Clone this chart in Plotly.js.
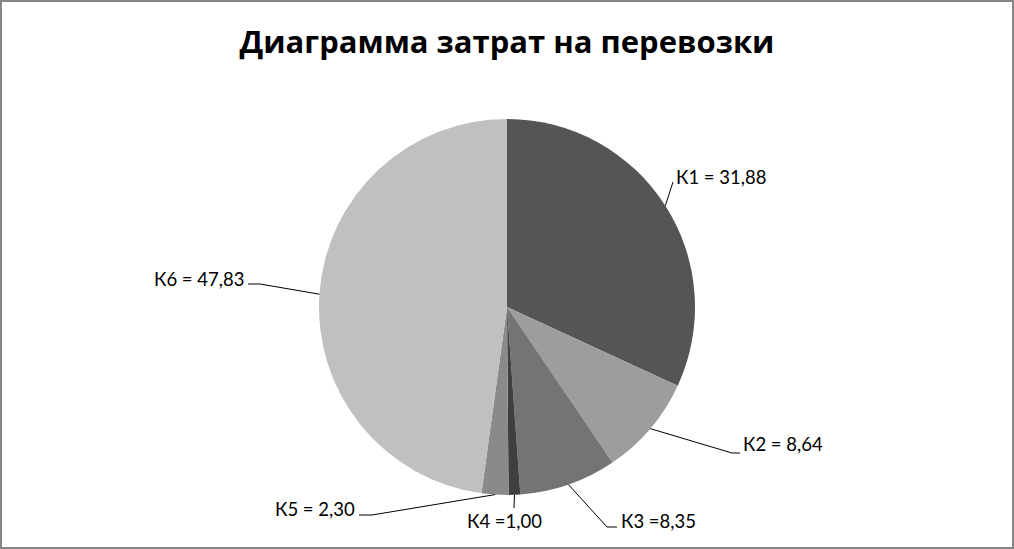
<!DOCTYPE html>
<html>
<head>
<meta charset="utf-8">
<script src="https://cdn.plot.ly/plotly-3.0.1.min.js"></script>
<style>
  html, body { margin: 0; padding: 0; background: #ffffff; }
  #chart { width: 1014px; height: 549px; }
</style>
</head>
<body>
<div id="chart"></div>
<script>
// ---- data ----
const categories = ['К1', 'К2', 'К3', 'К4', 'К5', 'К6'];
const costs = [31.88, 8.64, 8.35, 1.00, 2.30, 47.83];
const labelTexts = ['К1 = 31,88', 'К2 = 8,64', 'К3 =8,35', 'К4 =1,00', 'К5 = 2,30', 'К6 = 47,83'];
const titleText = 'Диаграмма затрат на перевозки';

// ---- styles / layout ----
const W = 1014, H = 549;
const sliceColors = ['#555555', '#9d9d9d', '#747474', '#3f3f3f', '#8a8a8a', '#c0c0c0'];
const cx = 507, cy = 307, R = 188;           // pie centre and radius (px)
// label placement: elbow of leader line, end of horizontal tail, text anchor
const labelPlacement = [
  { elbow: [673, 182], tail: null,        text: [674, 177], anchor: 'left' },
  { elbow: [732, 453], tail: [740, 453],  text: [741, 444], anchor: 'left' },
  { elbow: [607, 527], tail: [617, 527],  text: [619, 521], anchor: 'left' },
  { elbow: [514, 508], tail: null,        text: [504, 521], anchor: 'center' },
  { elbow: [372, 515], tail: [359, 515],  text: [357, 509], anchor: 'right' },
  { elbow: [260, 284], tail: [248, 284],  text: [246, 279], anchor: 'right' }
];

const px = x => x / W;
const py = y => 1 - y / H;

const total = costs.reduce((a, b) => a + b, 0);
const shapes = [];
const annotations = [];
let cum = 0;
costs.forEach((v, i) => {
  const midFrac = (cum + v / 2) / total;
  cum += v;
  const ang = midFrac * 2 * Math.PI;          // clockwise from 12 o'clock
  const ex = cx + R * Math.sin(ang);
  const ey = cy - R * Math.cos(ang);
  const p = labelPlacement[i];
  shapes.push({ type: 'line', xref: 'paper', yref: 'paper',
    x0: px(ex), y0: py(ey), x1: px(p.elbow[0]), y1: py(p.elbow[1]),
    line: { color: '#000000', width: 1 } });
  if (p.tail) {
    shapes.push({ type: 'line', xref: 'paper', yref: 'paper',
      x0: px(p.elbow[0]), y0: py(p.elbow[1]), x1: px(p.tail[0]), y1: py(p.tail[1]),
      line: { color: '#000000', width: 1 } });
  }
  annotations.push({ xref: 'paper', yref: 'paper', x: px(p.text[0]), y: py(p.text[1]),
    xanchor: p.anchor, yanchor: 'middle', showarrow: false, text: labelTexts[i],
    font: { family: 'Lato, "Open Sans", sans-serif', size: 18.5, color: '#000000' } });
});

// outer chart border
shapes.push({ type: 'rect', xref: 'paper', yref: 'paper', x0: 0, y0: 0, x1: 1, y1: 1,
  line: { color: '#868686', width: 4 }, layer: 'above' });

const trace = {
  type: 'pie',
  labels: categories,
  values: costs,
  sort: false,
  direction: 'clockwise',
  rotation: 0,
  textinfo: 'none',
  hoverinfo: 'label+value',
  marker: { colors: sliceColors, line: { color: '#ffffff', width: 0 } },
  domain: { x: [px(cx - R), px(cx + R)], y: [py(cy + R), py(cy - R)] }
};

const layout = {
  width: W, height: H,
  margin: { l: 0, r: 0, t: 0, b: 0 },
  paper_bgcolor: '#ffffff',
  showlegend: false,
  title: {
    text: titleText,
    x: 0.5, xanchor: 'center',
    y: 1 - 42 / H, yanchor: 'middle', yref: 'container',
    font: { family: '"Open Sans", Lato, sans-serif', size: 31, weight: 'bold', color: '#000000' }
  },
  shapes: shapes,
  annotations: annotations
};

Plotly.newPlot('chart', [trace], layout, { displayModeBar: false, staticPlot: true });
</script>
</body>
</html>
